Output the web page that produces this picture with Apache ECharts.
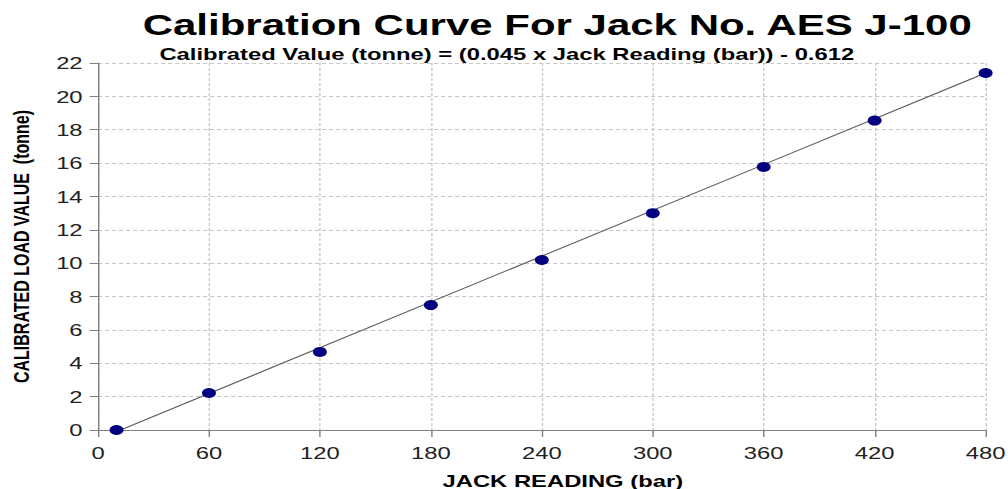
<!DOCTYPE html>
<html>
<head>
<meta charset="utf-8">
<script src="https://cdn.jsdelivr.net/npm/echarts@6/dist/echarts.min.js"></script>
<style>
html,body{margin:0;padding:0;background:#fff;overflow:hidden;}
/* the source picture is a chart stretched sideways, so draw narrow and widen */
#m1{width:720px;height:489px;transform:scaleX(1.4);transform-origin:0 0;}
</style>
</head>
<body>
<div id="m1"></div>
<script>
var jackReading=[10,60,120,180,240,300,360,420,480];
var loadValue=[0,2.22,4.68,7.49,10.19,13.0,15.77,18.55,21.4];
var trendX=[10,480];
var trendY=[-0.1,21.4];

var points=[];
for(var i=0;i<jackReading.length;i++){
    points.push([jackReading[i],loadValue[i]]);
}
var trend=[];
for(var j=0;j<trendX.length;j++){
    trend.push([trendX[j],trendY[j]]);
}

var myChart=echarts.init(document.getElementById('m1'),null,{renderer:'svg'});
var option={
    animation:false,
    title:[
        {
        text:'Calibration Curve For Jack No. AES J-100',
        left:393,top:5,textAlign:'center',
        textStyle:{fontFamily:'Liberation Sans',fontWeight:'bold',fontSize:30,color:'#000'}
        },
        {
        text:'Calibrated Value (tonne) = (0.045 x Jack Reading (bar)) - 0.612',
        left:357,top:40,textAlign:'center',
        textStyle:{fontFamily:'Liberation Sans',fontWeight:'bold',fontSize:17,color:'#000'}
        }
    ],
    grid:{left:70,right:16,top:63,bottom:59,outerBoundsMode:'none'},
    xAxis:{
        type:'value',min:0,max:480,interval:60,
        name:'JACK READING (bar)',nameLocation:'middle',nameGap:42,
        nameTextStyle:{fontFamily:'Liberation Sans',fontWeight:'bold',fontSize:17,color:'#000',padding:[0,0,0,30]},
        axisLine:{lineStyle:{color:'#808080',width:1}},
        axisTick:{show:true,length:7,lineStyle:{color:'#808080'}},
        axisLabel:{fontFamily:'Liberation Sans',fontSize:17,color:'#222',margin:14},
        splitLine:{show:true,lineStyle:{color:'#c8c8c8',type:[3,2]}}
    },
    yAxis:{
        type:'value',min:0,max:22,interval:2,
        name:'CALIBRATED LOAD VALUE  (tonne)',nameLocation:'middle',nameGap:47,nameRotate:90,
        nameTextStyle:{fontFamily:'Liberation Sans',fontWeight:'bold',fontSize:16,color:'#000'},
        axisLine:{show:true,lineStyle:{color:'#808080',width:1}},
        axisTick:{show:true,length:6,lineStyle:{color:'#808080'}},
        axisLabel:{fontFamily:'Liberation Sans',fontSize:17,color:'#222',margin:11},
        splitLine:{show:true,lineStyle:{color:'#c8c8c8',type:[3,2]}}
    },
    series:[
        {
        name:'trend',type:'line',data:trend,symbol:'none',
        lineStyle:{color:'#555',width:1},z:2
        },
        {
        name:'readings',type:'scatter',data:points,
        symbol:'circle',symbolSize:10,
        itemStyle:{color:'#000080',opacity:1},z:3
        }
    ]
};
myChart.setOption(option);
</script>
</body>
</html>
